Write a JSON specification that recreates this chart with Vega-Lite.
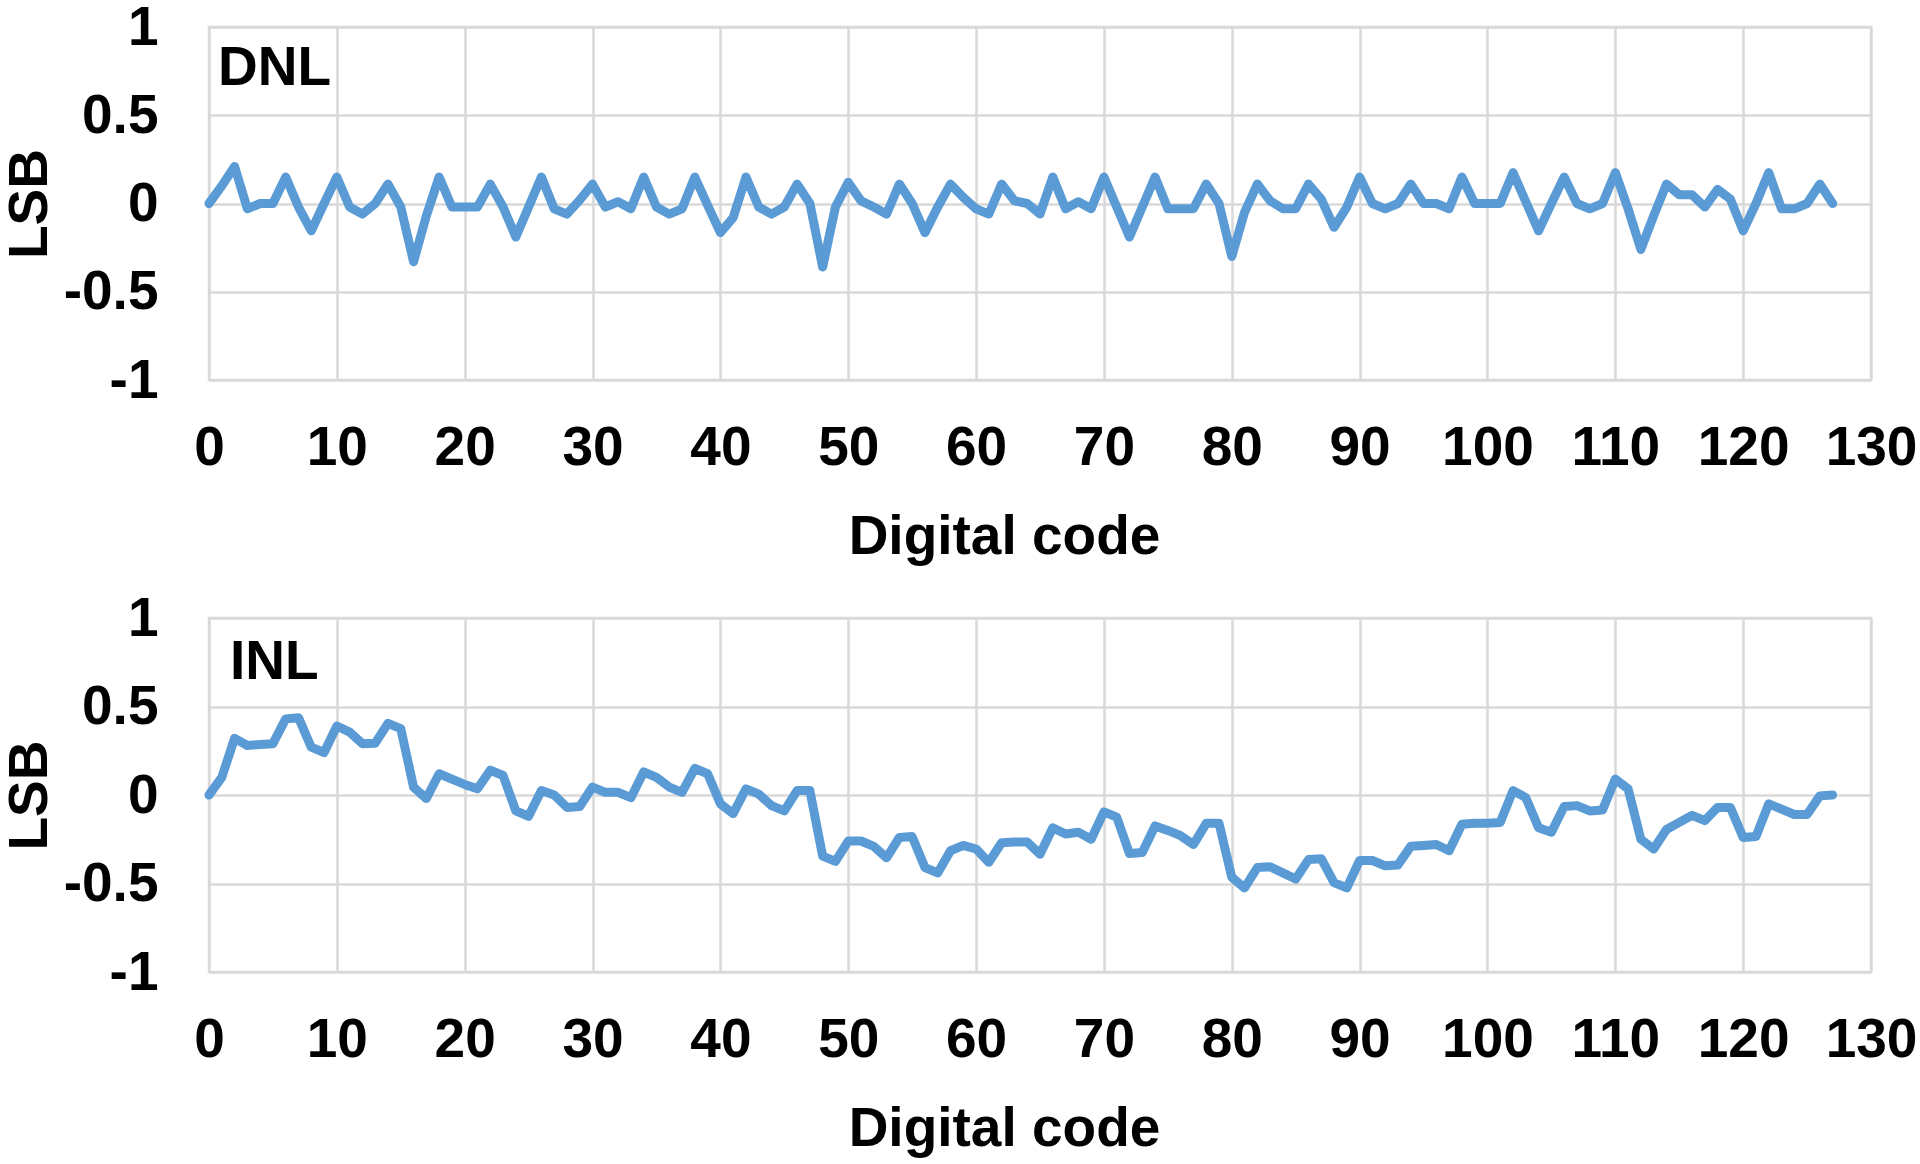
{
  "$schema": "https://vega.github.io/schema/vega-lite/v6.json",
  "background": "white",
  "padding": {"top": -2, "left": 0, "right": 5, "bottom": 5},
  "spacing": 23,
  "config": {
    "font": "Liberation Sans",
    "view": {"stroke": "#d9d9d9", "strokeWidth": 2.5},
    "axis": {
      "labelFont": "Liberation Sans", "labelFontWeight": "bold", "labelFontSize": 55, "labelColor": "black",
      "titleFont": "Liberation Sans", "titleFontWeight": "bold", "titleFontSize": 55, "titleColor": "black",
      "gridColor": "#d9d9d9", "gridWidth": 2.5, "gridOpacity": 1,
      "domain": false, "ticks": false, "tickSize": 0
    }
  },
  "datasets": {
    "dnl": [
      {"code":0,"value":0},{"code":1,"value":0.1},{"code":2,"value":0.21},{"code":3,"value":-0.03},{"code":4,"value":0},{"code":5,"value":0},{"code":6,"value":0.15},{"code":7,"value":-0.02},{"code":8,"value":-0.155},{"code":9,"value":0},
      {"code":10,"value":0.15},{"code":11,"value":-0.02},{"code":12,"value":-0.06},{"code":13,"value":0},{"code":14,"value":0.11},{"code":15,"value":-0.02},{"code":16,"value":-0.33},{"code":17,"value":-0.07},{"code":18,"value":0.15},{"code":19,"value":-0.02},
      {"code":20,"value":-0.02},{"code":21,"value":-0.02},{"code":22,"value":0.11},{"code":23,"value":-0.02},{"code":24,"value":-0.19},{"code":25,"value":-0.02},{"code":26,"value":0.15},{"code":27,"value":-0.03},{"code":28,"value":-0.06},{"code":29,"value":0.02},
      {"code":30,"value":0.11},{"code":31,"value":-0.02},{"code":32,"value":0.01},{"code":33,"value":-0.03},{"code":34,"value":0.15},{"code":35,"value":-0.02},{"code":36,"value":-0.06},{"code":37,"value":-0.03},{"code":38,"value":0.15},{"code":39,"value":-0.01},
      {"code":40,"value":-0.165},{"code":41,"value":-0.08},{"code":42,"value":0.15},{"code":43,"value":-0.02},{"code":44,"value":-0.06},{"code":45,"value":-0.02},{"code":46,"value":0.11},{"code":47,"value":0},{"code":48,"value":-0.36},{"code":49,"value":-0.02},
      {"code":50,"value":0.12},{"code":51,"value":0.015},{"code":52,"value":-0.02},{"code":53,"value":-0.06},{"code":54,"value":0.11},{"code":55,"value":0},{"code":56,"value":-0.165},{"code":57,"value":-0.02},{"code":58,"value":0.11},{"code":59,"value":0.035},
      {"code":60,"value":-0.03},{"code":61,"value":-0.06},{"code":62,"value":0.11},{"code":63,"value":0.015},{"code":64,"value":0},{"code":65,"value":-0.06},{"code":66,"value":0.15},{"code":67,"value":-0.03},{"code":68,"value":0.01},{"code":69,"value":-0.03},
      {"code":70,"value":0.15},{"code":71,"value":-0.02},{"code":72,"value":-0.19},{"code":73,"value":-0.02},{"code":74,"value":0.15},{"code":75,"value":-0.03},{"code":76,"value":-0.03},{"code":77,"value":-0.03},{"code":78,"value":0.11},{"code":79,"value":0},
      {"code":80,"value":-0.3},{"code":81,"value":-0.05},{"code":82,"value":0.11},{"code":83,"value":0.015},{"code":84,"value":-0.03},{"code":85,"value":-0.03},{"code":86,"value":0.11},{"code":87,"value":0.025},{"code":88,"value":-0.135},{"code":89,"value":-0.02},
      {"code":90,"value":0.15},{"code":91,"value":0},{"code":92,"value":-0.03},{"code":93,"value":0},{"code":94,"value":0.11},{"code":95,"value":0},{"code":96,"value":0},{"code":97,"value":-0.03},{"code":98,"value":0.15},{"code":99,"value":0},
      {"code":100,"value":0},{"code":101,"value":0},{"code":102,"value":0.175},{"code":103,"value":0.01},{"code":104,"value":-0.155},{"code":105,"value":0},{"code":106,"value":0.15},{"code":107,"value":0},{"code":108,"value":-0.03},{"code":109,"value":0},
      {"code":110,"value":0.175},{"code":111,"value":-0.03},{"code":112,"value":-0.26},{"code":113,"value":-0.07},{"code":114,"value":0.11},{"code":115,"value":0.05},{"code":116,"value":0.05},{"code":117,"value":-0.02},{"code":118,"value":0.08},{"code":119,"value":0.025},
      {"code":120,"value":-0.155},{"code":121,"value":0},{"code":122,"value":0.175},{"code":123,"value":-0.03},{"code":124,"value":-0.03},{"code":125,"value":0},{"code":126,"value":0.11},{"code":127,"value":0}
    ],
    "inl": [
      {"code":0,"value":0},{"code":1,"value":0.1},{"code":2,"value":0.32},{"code":3,"value":0.28},{"code":4,"value":0.285},{"code":5,"value":0.29},{"code":6,"value":0.43},{"code":7,"value":0.437},{"code":8,"value":0.27},{"code":9,"value":0.24},
      {"code":10,"value":0.39},{"code":11,"value":0.355},{"code":12,"value":0.29},{"code":13,"value":0.293},{"code":14,"value":0.405},{"code":15,"value":0.375},{"code":16,"value":0.045},{"code":17,"value":-0.02},{"code":18,"value":0.12},{"code":19,"value":0.09},
      {"code":20,"value":0.06},{"code":21,"value":0.035},{"code":22,"value":0.14},{"code":23,"value":0.11},{"code":24,"value":-0.09},{"code":25,"value":-0.12},{"code":26,"value":0.025},{"code":27,"value":0},{"code":28,"value":-0.07},{"code":29,"value":-0.065},
      {"code":30,"value":0.045},{"code":31,"value":0.015},{"code":32,"value":0.015},{"code":33,"value":-0.015},{"code":34,"value":0.13},{"code":35,"value":0.1},{"code":36,"value":0.045},{"code":37,"value":0.015},{"code":38,"value":0.15},{"code":39,"value":0.12},
      {"code":40,"value":-0.05},{"code":41,"value":-0.105},{"code":42,"value":0.035},{"code":43,"value":0.005},{"code":44,"value":-0.06},{"code":45,"value":-0.09},{"code":46,"value":0.025},{"code":47,"value":0.025},{"code":48,"value":-0.345},{"code":49,"value":-0.375},
      {"code":50,"value":-0.26},{"code":51,"value":-0.26},{"code":52,"value":-0.29},{"code":53,"value":-0.355},{"code":54,"value":-0.24},{"code":55,"value":-0.235},{"code":56,"value":-0.41},{"code":57,"value":-0.44},{"code":58,"value":-0.315},{"code":59,"value":-0.285},
      {"code":60,"value":-0.305},{"code":61,"value":-0.38},{"code":62,"value":-0.27},{"code":63,"value":-0.265},{"code":64,"value":-0.265},{"code":65,"value":-0.335},{"code":66,"value":-0.185},{"code":67,"value":-0.22},{"code":68,"value":-0.21},{"code":69,"value":-0.25},
      {"code":70,"value":-0.095},{"code":71,"value":-0.125},{"code":72,"value":-0.33},{"code":73,"value":-0.325},{"code":74,"value":-0.175},{"code":75,"value":-0.2},{"code":76,"value":-0.23},{"code":77,"value":-0.28},{"code":78,"value":-0.16},{"code":79,"value":-0.16},
      {"code":80,"value":-0.465},{"code":81,"value":-0.525},{"code":82,"value":-0.41},{"code":83,"value":-0.405},{"code":84,"value":-0.44},{"code":85,"value":-0.475},{"code":86,"value":-0.365},{"code":87,"value":-0.36},{"code":88,"value":-0.495},{"code":89,"value":-0.525},
      {"code":90,"value":-0.37},{"code":91,"value":-0.37},{"code":92,"value":-0.4},{"code":93,"value":-0.395},{"code":94,"value":-0.29},{"code":95,"value":-0.285},{"code":96,"value":-0.28},{"code":97,"value":-0.315},{"code":98,"value":-0.165},{"code":99,"value":-0.16},
      {"code":100,"value":-0.16},{"code":101,"value":-0.155},{"code":102,"value":0.025},{"code":103,"value":-0.015},{"code":104,"value":-0.185},{"code":105,"value":-0.21},{"code":106,"value":-0.065},{"code":107,"value":-0.06},{"code":108,"value":-0.09},{"code":109,"value":-0.085},
      {"code":110,"value":0.09},{"code":111,"value":0.035},{"code":112,"value":-0.25},{"code":113,"value":-0.305},{"code":114,"value":-0.195},{"code":115,"value":-0.155},{"code":116,"value":-0.115},{"code":117,"value":-0.145},{"code":118,"value":-0.07},{"code":119,"value":-0.07},
      {"code":120,"value":-0.24},{"code":121,"value":-0.235},{"code":122,"value":-0.05},{"code":123,"value":-0.08},{"code":124,"value":-0.11},{"code":125,"value":-0.11},{"code":126,"value":-0.005},{"code":127,"value":0}
    ]
  },
  "vconcat": [
    {
      "width": 1662, "height": 353,
      "layer": [
        {
          "data": {"name": "dnl"},
          "mark": {"type": "line", "color": "#5b9bd5", "strokeWidth": 9, "strokeJoin": "round", "strokeCap": "round"},
          "encoding": {
            "x": {"field": "code", "type": "quantitative", "scale": {"domain": [0, 130], "nice": false},
                  "axis": {"values": [0,10,20,30,40,50,60,70,80,90,100,110,120,130], "title": "Digital code", "labelPadding": 41, "titlePadding": 35, "titleX": 795, "labelFlush": false}},
            "y": {"field": "value", "type": "quantitative", "scale": {"domain": [-1, 1], "nice": false},
                  "axis": {"values": [-1,-0.5,0,0.5,1], "title": "LSB", "labelPadding": 51, "titlePadding": 5, "labelExpr": "'' + datum.value"}}
          }
        },
        {
          "data": {"values": [{"panel": "DNL"}]},
          "mark": {"type": "text", "align": "left", "baseline": "alphabetic", "dx": 9, "dy": 58, "fontSize": 55, "fontWeight": "bold", "font": "Liberation Sans", "color": "black"},
          "encoding": {"x": {"datum": 0}, "y": {"datum": 1}, "text": {"field": "panel"}}
        }
      ]
    },
    {
      "width": 1662, "height": 354,
      "layer": [
        {
          "data": {"name": "inl"},
          "mark": {"type": "line", "color": "#5b9bd5", "strokeWidth": 9, "strokeJoin": "round", "strokeCap": "round"},
          "encoding": {
            "x": {"field": "code", "type": "quantitative", "scale": {"domain": [0, 130], "nice": false},
                  "axis": {"values": [0,10,20,30,40,50,60,70,80,90,100,110,120,130], "title": "Digital code", "labelPadding": 41, "titlePadding": 35, "titleX": 795, "labelFlush": false}},
            "y": {"field": "value", "type": "quantitative", "scale": {"domain": [-1, 1], "nice": false},
                  "axis": {"values": [-1,-0.5,0,0.5,1], "title": "LSB", "labelPadding": 51, "titlePadding": 5, "labelExpr": "'' + datum.value"}}
          }
        },
        {
          "data": {"values": [{"panel": "INL"}]},
          "mark": {"type": "text", "align": "left", "baseline": "alphabetic", "dx": 21, "dy": 61, "fontSize": 55, "fontWeight": "bold", "font": "Liberation Sans", "color": "black"},
          "encoding": {"x": {"datum": 0}, "y": {"datum": 1}, "text": {"field": "panel"}}
        }
      ]
    }
  ]
}
